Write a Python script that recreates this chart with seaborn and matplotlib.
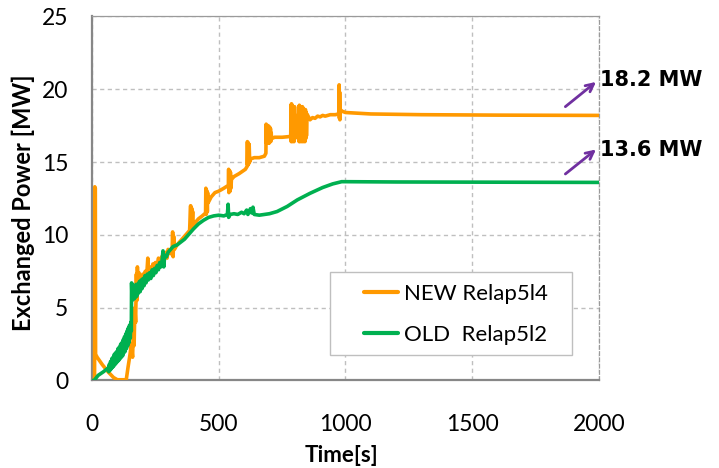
import matplotlib
matplotlib.use("Agg")
import matplotlib.pyplot as plt
from matplotlib.patches import Rectangle
import seaborn as sns
import pandas as pd

# Exchanged power, NEW Relap5l4 run: (time [s], power [MW])
new_points = [
    (0, 0.0), (10, 0.0), (11, 13.3), (13, 13.2), (14, 1.8), (20, 1.6), (40, 1.1),
    (63, 0.6), (85, 0.2), (100, 0.05), (135, 0.05), (142, 0.9), (150, 1.8), (155, 2.5),
    (160, 1.6), (163, 3.5), (166, 2.4), (169, 5.0), (172, 4.0), (175, 7.3), (177, 5.5),
    (179, 7.8), (182, 6.0), (185, 7.4), (188, 6.4), (192, 7.0), (196, 6.6), (200, 7.3),
    (205, 6.8), (210, 7.5), (215, 7.0), (220, 8.4), (223, 7.2), (228, 7.8), (235, 7.3),
    (240, 8.0), (245, 7.5), (250, 8.1), (255, 7.7), (262, 8.4), (268, 8.1), (275, 8.5),
    (282, 8.3), (290, 8.8), (296, 8.4), (300, 9.0), (310, 8.7), (316, 8.9), (318, 10.2),
    (320, 8.5), (322, 9.9), (325, 9.0), (335, 9.3), (345, 9.5), (360, 9.8), (375, 10.1),
    (385, 10.3), (389, 12.0), (390, 10.3), (391, 11.9), (392, 10.4), (394, 11.8),
    (395, 10.4), (397, 11.6), (398, 10.5), (400, 10.6), (410, 10.9), (420, 11.1),
    (435, 11.3), (448, 11.5), (449, 13.2), (450, 11.4), (451, 13.1), (452, 11.5),
    (453, 13.0), (455, 11.6), (456, 12.9), (458, 12.2), (470, 12.6), (485, 12.9),
    (500, 13.0), (520, 13.2), (538, 13.4), (539, 14.5), (540, 12.9), (541, 14.4),
    (542, 13.0), (543, 14.4), (545, 13.0), (546, 14.3), (548, 13.2), (550, 13.8),
    (560, 14.0), (580, 14.2), (605, 14.5), (612, 14.7), (613, 16.4), (614, 14.8),
    (615, 16.3), (616, 14.8), (617, 16.3), (619, 14.9), (620, 16.2), (622, 15.0),
    (624, 15.2), (640, 15.3), (660, 15.3), (680, 15.4), (686, 15.6), (687, 17.6),
    (688, 16.3), (689, 17.5), (690, 16.3), (692, 17.4), (693, 16.3), (695, 17.5),
    (696, 16.3), (698, 17.4), (699, 16.3), (701, 17.4), (702, 16.4), (704, 17.3),
    (705, 16.4), (707, 17.0), (708, 16.6), (720, 16.7), (750, 16.7), (780, 16.75),
    (784, 16.8), (785, 18.9), (786, 16.4), (787, 19.0), (788, 16.5), (790, 18.9),
    (791, 16.4), (793, 18.8), (794, 16.5), (796, 18.7), (797, 16.4), (799, 18.8),
    (800, 16.6), (803, 18.2), (808, 17.9), (812, 18.0), (815, 18.1), (816, 18.8),
    (817, 16.4), (818, 18.9), (819, 16.5), (821, 18.7), (822, 16.4), (824, 18.8),
    (825, 16.5), (827, 18.6), (828, 16.4), (830, 18.8), (831, 16.5), (833, 18.7),
    (834, 16.4), (836, 18.6), (837, 16.5), (839, 18.5), (840, 16.4), (842, 18.6),
    (843, 16.6), (845, 18.4), (846, 16.8), (848, 18.3), (860, 17.9), (870, 18.05),
    (880, 18.0), (890, 18.15), (900, 18.1), (910, 18.2), (920, 18.15), (940, 18.25),
    (960, 18.25), (972, 18.3), (974, 18.3), (975, 20.3), (976, 18.0), (977, 19.8),
    (978, 17.9), (980, 18.6), (985, 18.5), (1000, 18.4), (1100, 18.3), (1300, 18.25),
    (1600, 18.22), (2000, 18.2),
]

# Exchanged power, OLD Relap5l2 run: (time [s], power [MW])
old_points = [
    (0, 0.0), (8, 0.0), (24, 0.35), (45, 0.6), (63, 0.85), (66, 0.6), (68, 1.1),
    (71, 0.7), (73, 1.3), (76, 0.8), (78, 1.5), (81, 0.9), (83, 1.6), (86, 1.0),
    (88, 1.8), (91, 1.1), (93, 1.9), (96, 1.2), (98, 2.0), (101, 1.3), (103, 2.2),
    (106, 1.4), (108, 2.3), (111, 1.5), (113, 2.5), (116, 1.6), (118, 2.6), (121, 1.7),
    (123, 2.8), (126, 1.9), (128, 3.0), (131, 2.0), (133, 3.2), (136, 2.2), (138, 3.4),
    (141, 2.4), (143, 3.6), (146, 2.6), (148, 3.8), (151, 2.9), (153, 4.0), (155, 3.4),
    (156, 6.7), (158, 5.5), (160, 6.6), (162, 5.6), (164, 6.5), (166, 5.6), (168, 6.5),
    (171, 5.7), (174, 6.6), (177, 5.8), (180, 6.6), (183, 6.0), (187, 6.8), (190, 6.1),
    (194, 6.9), (197, 6.3), (201, 7.0), (205, 6.5), (209, 7.2), (213, 6.7), (218, 7.3),
    (222, 6.9), (227, 7.4), (232, 7.0), (237, 7.6), (242, 7.2), (247, 7.7), (252, 7.4),
    (257, 7.9), (262, 7.6), (267, 8.1), (272, 7.8), (276, 8.2), (280, 8.9), (283, 7.8),
    (287, 8.6), (294, 8.5), (300, 8.8), (310, 9.0), (320, 9.2), (335, 9.3), (350, 9.5),
    (365, 9.7), (380, 10.0), (400, 10.4), (420, 10.75), (440, 11.0), (460, 11.2),
    (480, 11.3), (500, 11.35), (520, 11.3), (534, 11.4), (537, 12.1), (539, 11.2),
    (545, 11.4), (560, 11.45), (575, 11.4), (590, 11.55), (600, 11.45), (610, 11.7),
    (615, 11.4), (625, 11.8), (630, 11.5), (635, 11.9), (640, 11.4), (660, 11.35),
    (700, 11.45), (730, 11.6), (770, 11.95), (810, 12.4), (860, 12.85), (910, 13.25),
    (950, 13.5), (985, 13.65), (1000, 13.65), (1200, 13.63), (2000, 13.6),
]

series_labels = ["NEW Relap5l4", "OLD  Relap5l2"]
series_colors = ["#FF9900", "#00B050"]
x_ticks = [0, 500, 1000, 1500, 2000]
y_ticks = [0, 5, 10, 15, 20, 25]

sns.set_theme(style="white")
plt.rcParams["font.family"] = ["Lato", "DejaVu Sans"]
plt.rcParams["text.color"] = "black"
plt.rcParams["axes.labelcolor"] = "black"

fig = plt.figure(figsize=(7.19, 4.68), dpi=100)
ax = fig.add_axes([0.128, 0.187, 0.705, 0.778])

new_df = pd.DataFrame(new_points, columns=["t", "p"])
old_df = pd.DataFrame(old_points, columns=["t", "p"])

sns.lineplot(data=new_df, x="t", y="p", ax=ax, color=series_colors[0], lw=2.6,
             estimator=None, sort=False, label=series_labels[0], zorder=3)
sns.lineplot(data=old_df, x="t", y="p", ax=ax, color=series_colors[1], lw=2.6,
             estimator=None, sort=False, label=series_labels[1], zorder=4)

ax.set_xlim(0, 2000)
ax.set_ylim(0, 25)
ax.set_xticks(x_ticks)
ax.set_yticks(y_ticks)
ax.tick_params(axis="both", length=0, labelsize=16.5, colors="black")
ax.tick_params(axis="x", pad=24)
ax.tick_params(axis="y", pad=17)

ax.grid(True, color="#BFBFBF", lw=1.0, linestyle=(0, (3, 2.5)))
ax.set_axisbelow(True)

for side in ("left", "bottom"):
    ax.spines[side].set_color("#878787")
    ax.spines[side].set_linewidth(1.6)
ax.spines["top"].set_color("#9A9A9A")
ax.spines["top"].set_linewidth(0.9)
ax.spines["right"].set_color("#9A9A9A")
ax.spines["right"].set_linewidth(0.9)
ax.spines["right"].set_linestyle((0, (3, 2)))

ax.set_xlabel("Time[s]", fontsize=16, fontweight="bold", color="black")
ax.set_ylabel("Exchanged Power [MW]", fontsize=17, fontweight="bold", color="black")
ax.xaxis.set_label_coords(0.492, -0.177)
ax.yaxis.set_label_coords(-0.112, 0.487)

# Legend: fixed-size white frame with the entries inset inside it
ax.add_patch(Rectangle((0.4694, 0.070), 0.4773, 0.2279, transform=ax.transAxes,
                       facecolor="white", edgecolor="#BFBFBF", lw=1.0, zorder=5))
leg = ax.legend(loc="upper left", bbox_to_anchor=(0.5365, 0.265), borderaxespad=0,
                fontsize=16, frameon=False, handlelength=1.53, handletextpad=0.25,
                labelspacing=0.95, borderpad=0.0)
leg.set_zorder(6)
for text in leg.get_texts():
    text.set_color("black")
for line in leg.get_lines():
    line.set_linewidth(3)

# Final-value callouts on the right edge
final_new = new_points[-1][1]
final_old = old_points[-1][1]
for final, start_y, tip_y, text_y in [(final_new, 18.68, 20.62, 20.62),
                                      (final_old, 14.06, 15.98, 15.82)]:
    ax.annotate("", xy=(1997, tip_y), xytext=(1859, start_y), xycoords="data",
                arrowprops=dict(arrowstyle="->", color="#7030A0", lw=2.0,
                                mutation_scale=14), annotation_clip=False)
    ax.text(2004, text_y, f"{final:.1f} MW", fontsize=15, fontweight="bold",
            family="DejaVu Sans", ha="left", va="center", color="black", clip_on=False)

fig.savefig("out.png", dpi=100)
